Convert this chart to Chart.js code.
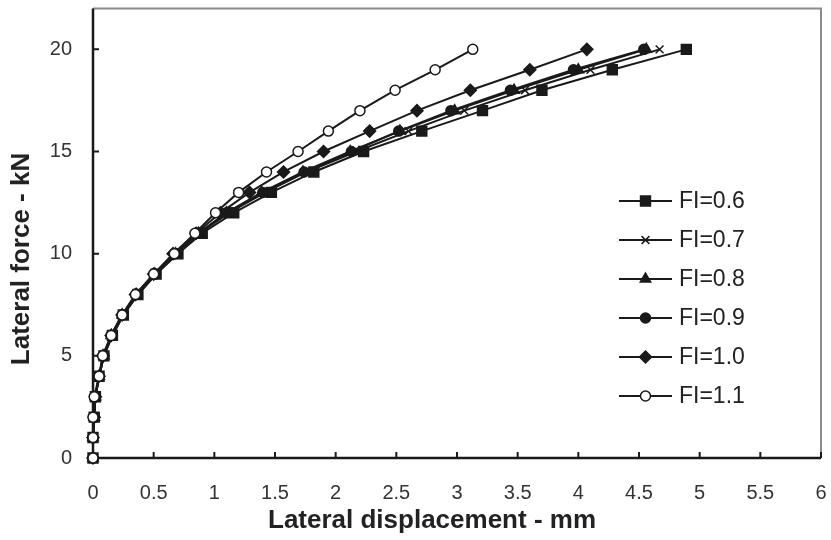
<!DOCTYPE html>
<html>
<head>
<meta charset="utf-8">
<script src="https://cdn.jsdelivr.net/npm/chart.js@4.4.1/dist/chart.umd.min.js"></script>
<style>
  html, body { margin: 0; padding: 0; background: #fff; }
  #wrap { width: 831px; height: 540px; }
</style>
</head>
<body>
<div id="wrap"><canvas id="chart" width="831" height="540"></canvas></div>
<script>
// =======================
// Data
// =======================
// lateral force levels in kN, shared by every series
const force = [0, 1, 2, 3, 4, 5, 6, 7, 8, 9, 10, 11, 12, 13, 14, 15, 16, 17, 18, 19, 20];

// lateral displacement in mm at each force level
const dispFI06 = [0, 0, 0.01, 0.02, 0.05, 0.09, 0.16, 0.25, 0.37, 0.52, 0.70, 0.90, 1.16, 1.47, 1.82, 2.23, 2.71, 3.21, 3.70, 4.28, 4.89];
const dispFI07 = [0, 0, 0.01, 0.02, 0.05, 0.09, 0.16, 0.25, 0.37, 0.52, 0.69, 0.88, 1.12, 1.42, 1.76, 2.17, 2.60, 3.06, 3.56, 4.10, 4.67];
const dispFI08 = [0, 0, 0.01, 0.02, 0.05, 0.09, 0.15, 0.24, 0.36, 0.51, 0.68, 0.87, 1.10, 1.39, 1.73, 2.12, 2.53, 2.98, 3.47, 4.00, 4.56];
const dispFI09 = [0, 0, 0.01, 0.02, 0.05, 0.09, 0.15, 0.24, 0.36, 0.51, 0.68, 0.87, 1.10, 1.40, 1.74, 2.13, 2.52, 2.95, 3.44, 3.96, 4.54];
const dispFI10 = [0, 0, 0.01, 0.02, 0.05, 0.08, 0.15, 0.24, 0.35, 0.50, 0.66, 0.85, 1.05, 1.29, 1.57, 1.90, 2.28, 2.67, 3.11, 3.60, 4.07];
const dispFI11 = [0, 0, 0, 0.01, 0.05, 0.08, 0.15, 0.24, 0.35, 0.50, 0.67, 0.84, 1.01, 1.20, 1.43, 1.69, 1.94, 2.20, 2.49, 2.82, 3.13];

const seriesLabels = ["FI=0.6", "FI=0.7", "FI=0.8", "FI=0.9", "FI=1.0", "FI=1.1"];

// tick labels
const xTickValues = [0, 0.5, 1, 1.5, 2, 2.5, 3, 3.5, 4, 4.5, 5, 5.5, 6];
const yTickValues = [0, 5, 10, 15, 20];

const xTitle = "Lateral displacement - mm";
const yTitle = "Lateral force - kN";

// =======================
// Styles
// =======================
const INK = "#1a1a1a";
const markers = [
    { pointStyle: "rect",     pointRadius: 7,   fill: INK },
    { pointStyle: "crossRot", pointRadius: 5.5, fill: INK },
    { pointStyle: "triangle", pointRadius: 6,   fill: INK },
    { pointStyle: "circle",   pointRadius: 5,   fill: INK },
    { pointStyle: "rectRot",  pointRadius: 6,   fill: INK },
    { pointStyle: "circle",   pointRadius: 5,   fill: "#ffffff" }
];
const allDisp = [dispFI06, dispFI07, dispFI08, dispFI09, dispFI10, dispFI11];

function toPoints(disp) {
    return disp.map((d, i) => ({ x: d, y: force[i] }));
}

const datasets = allDisp.map((disp, i) => ({
    label: seriesLabels[i],
    data: toPoints(disp),
    borderColor: INK,
    borderWidth: 2,
    backgroundColor: markers[i].fill,
    pointStyle: markers[i].pointStyle,
    pointRadius: markers[i].pointRadius,
    pointHoverRadius: markers[i].pointRadius,
    pointBorderColor: INK,
    pointBorderWidth: 1.5,
    pointBackgroundColor: markers[i].fill,
    showLine: true,
    tension: 0,
    clip: false,
    order: seriesLabels.length - i   // last series on top, like the original
}));

// =======================
// Frame, inward ticks, titles, legend
// =======================
const framePlugin = {
    id: "frame",
    beforeDatasetsDraw(chart) {
        const { ctx, chartArea: a, scales } = chart;
        ctx.save();
        ctx.strokeStyle = "#8a8a8a";
        ctx.lineWidth = 2;
        ctx.beginPath();
        ctx.moveTo(a.left, a.top);
        ctx.lineTo(a.right, a.top);
        ctx.lineTo(a.right, a.bottom);
        ctx.stroke();

        ctx.strokeStyle = INK;
        ctx.lineWidth = 2.5;
        ctx.beginPath();
        ctx.moveTo(a.left, a.top);
        ctx.lineTo(a.left, a.bottom);
        ctx.lineTo(a.right, a.bottom);
        ctx.stroke();

        ctx.lineWidth = 2;
        ctx.beginPath();
        scales.x.ticks.forEach(t => {
            const px = scales.x.getPixelForValue(t.value);
            ctx.moveTo(px, a.bottom);
            ctx.lineTo(px, a.bottom - 6);
        });
        scales.y.ticks.forEach(t => {
            const py = scales.y.getPixelForValue(t.value);
            ctx.moveTo(a.left, py);
            ctx.lineTo(a.left + 6, py);
        });
        ctx.stroke();

        // axis titles
        ctx.fillStyle = "#222";
        ctx.font = "bold 26px 'Liberation Sans', Arial, sans-serif";
        ctx.textAlign = "center";
        ctx.textBaseline = "middle";
        ctx.fillText(xTitle, 432, 521);
        ctx.translate(22, 259);
        ctx.rotate(-Math.PI / 2);
        ctx.fillText(yTitle, 0, 0);
        ctx.restore();
    },
    afterDraw(chart) {
        const ctx = chart.ctx;
        ctx.save();
        chart.data.datasets.forEach((ds, i) => {
            const y = 201 + i * 39;
            ctx.strokeStyle = INK;
            ctx.lineWidth = 2;
            ctx.beginPath();
            ctx.moveTo(619, y);
            ctx.lineTo(672, y);
            ctx.stroke();

            ctx.fillStyle = ds.pointBackgroundColor;
            ctx.strokeStyle = INK;
            ctx.lineWidth = 1.5;
            Chart.helpers.drawPoint(ctx, {
                pointStyle: ds.pointStyle,
                radius: ds.pointRadius,
                borderWidth: 1.5,
                rotation: 0
            }, 645.5, y);

            ctx.fillStyle = "#222";
            ctx.font = "23px 'Liberation Sans', Arial, sans-serif";
            ctx.textBaseline = "middle";
            ctx.textAlign = "left";
            ctx.fillText(ds.label, 679, y + 1);
        });
        ctx.restore();
    }
};

// =======================
// Chart
// =======================
const tickFont = { family: "'Liberation Sans', Arial, sans-serif", size: 20 };

new Chart(document.getElementById("chart"), {
    type: "scatter",
    data: { datasets },
    plugins: [framePlugin],
    options: {
        responsive: false,
        animation: false,
        devicePixelRatio: 1,
        layout: { padding: { top: 7, right: 10, left: 0, bottom: 0 } },
        plugins: {
            legend: { display: false },
            tooltip: { enabled: false }
        },
        scales: {
            x: {
                type: "linear",
                min: 0,
                max: 6,
                afterBuildTicks: s => { s.ticks = xTickValues.map(v => ({ value: v })); },
                afterFit: s => { s.height = 82; s.paddingLeft = 0; s.paddingRight = 0; },
                grid: { display: false, drawTicks: false },
                border: { display: false },
                ticks: { color: "#333", font: tickFont, padding: 23, maxRotation: 0, callback: v => String(v) }
            },
            y: {
                type: "linear",
                min: 0,
                max: 22,
                afterBuildTicks: s => { s.ticks = yTickValues.map(v => ({ value: v })); },
                afterFit: s => { s.width = 93; s.paddingTop = 0; s.paddingBottom = 0; },
                grid: { display: false, drawTicks: false },
                border: { display: false },
                ticks: { color: "#333", font: tickFont, padding: 21, callback: v => String(v) }
            }
        }
    }
});
</script>
</body>
</html>
